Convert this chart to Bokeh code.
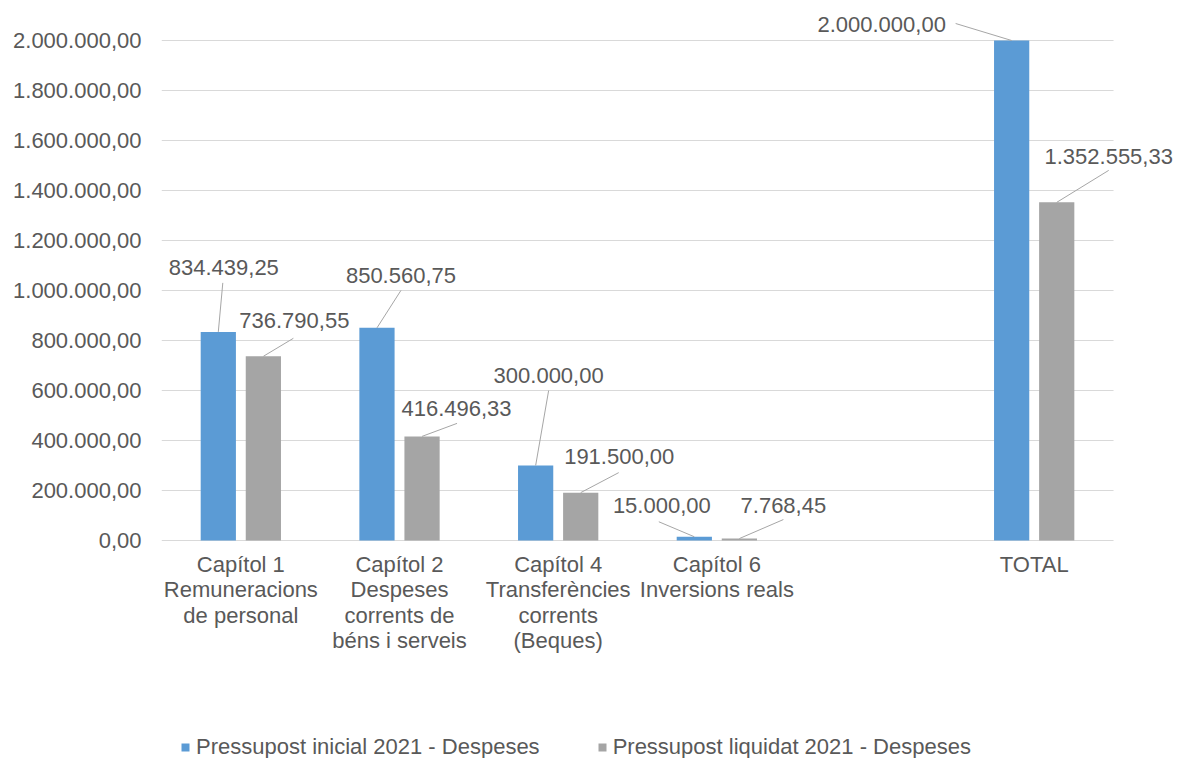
from bokeh.plotting import figure
from bokeh.models import ColumnDataSource, LabelSet, FixedTicker, Range1d, Legend, LegendItem
from bokeh.core.properties import value
from bokeh.embed import file_html
from bokeh.resources import INLINE

# ---------------- data ----------------
categories = [
    "Capítol 1\nRemuneracions\nde personal",
    "Capítol 2\nDespeses\ncorrents de\nbéns i serveis",
    "Capítol 4\nTransferències\ncorrents\n(Beques)",
    "Capítol 6\nInversions reals",
    "",
    "TOTAL",
]
inicial = [834439.25, 850560.75, 300000.00, 15000.00, None, 2000000.00]
liquidat = [736790.55, 416496.33, 191500.00, 7768.45, None, 1352555.33]
series_names = ["Pressupost inicial 2021 - Despeses", "Pressupost liquidat 2021 - Despeses"]

y_ticks = [0, 200000, 400000, 600000, 800000, 1000000, 1200000, 1400000, 1600000, 1800000, 2000000]
y_tick_labels = ["0,00", "200.000,00", "400.000,00", "600.000,00", "800.000,00", "1.000.000,00",
                 "1.200.000,00", "1.400.000,00", "1.600.000,00", "1.800.000,00", "2.000.000,00"]

# label placement (screen pixel offsets from bar top; y positive = up)
inicial_label_off = [(5.5, 64.5), (24, 52.5), (13, 90.5), (-32.5, 31), None, (-130, 16)]
inicial_line_end = [(4.5, 49), (24, 37.5), (13, 75), (-35.5, 15), None, (-56, 17)]
liquidat_label_off = [(31, 36), (34.5, 27.5), (38.5, 36.5), (44, 33), None, (52, 46)]
liquidat_line_end = [(30, 18), (35, 13), (38, 20), (44, 19), None, (52, 32)]

# ---------------- style ----------------
FONT = "Liberation Sans"
TEXT = "#595959"
BLUE = "#5B9BD5"
GRAY = "#A5A5A5"
GRID = "#D9D9D9"
LEADER = "#A6A6A6"

W, H = 1178, 758
BL, BT = 161, 12
ZERO_PX = 540               # page row of the zero line
SLOT_PX = 158.67            # width of one category slot in pixels
PX_PER_UNIT = 500 / 2000000.0
LINE_PX = 25.5              # line spacing of category labels
FRAME_W = W - BL
N = len(categories)
X_END = FRAME_W / SLOT_PX
Y_END = (ZERO_PX - BT) / PX_PER_UNIT
Y_START = -(H - ZERO_PX) / PX_PER_UNIT
XPX = 1.0 / SLOT_PX
YPX = 1.0 / PX_PER_UNIT
DODGE = 0.142
BAR_W = 0.222


def fmt(v):
    s = f"{v:,.2f}"
    return s.replace(",", "X").replace(".", ",").replace("X", ".")


p = figure(width=W, height=H, output_backend="svg", toolbar_location=None,
           x_range=Range1d(0, X_END), y_range=Range1d(Y_START, Y_END),
           min_border_left=BL, min_border_right=0, min_border_top=BT, min_border_bottom=0)
p.outline_line_color = None
p.background_fill_color = "white"
p.border_fill_color = "white"
p.xgrid.grid_line_color = None
p.ygrid.grid_line_color = None
p.xaxis.visible = False

# horizontal gridlines over the category slots only
p.segment(x0=[0] * len(y_ticks), x1=[N] * len(y_ticks), y0=y_ticks, y1=y_ticks,
          line_color=GRID, line_width=1)

yax = p.yaxis[0]
yax.ticker = FixedTicker(ticks=y_ticks)
yax.major_label_overrides = {t: l for t, l in zip(y_ticks, y_tick_labels)}
yax.axis_line_color = None
yax.major_tick_line_color = None
yax.minor_tick_line_color = None
yax.major_tick_out = 0
yax.major_tick_in = 0
yax.major_label_text_font = FONT
yax.major_label_text_font_size = "22px"
yax.major_label_text_color = TEXT
yax.major_label_standoff = 20

# category labels under each slot, each line centred
cx, cy, ct, co = [], [], [], []
for i, c in enumerate(categories):
    for k, line in enumerate(c.split("\n")):
        if not line:
            continue
        cx.append(i + 0.5)
        cy.append(0)
        ct.append(line)
        co.append(-11 - k * LINE_PX)
cat_src = ColumnDataSource(dict(x=cx, y=cy, text=ct, off=co))
p.add_layout(LabelSet(x="x", y="y", text="text", source=cat_src, y_offset="off",
                      text_align="center", text_baseline="top", text_font=value(FONT),
                      text_font_size="22px", text_color=TEXT))


def build(vals, offs, ends, shift):
    d = dict(x=[], top=[], label=[], dx=[], dy=[], lx=[], ly=[])
    for i, v in enumerate(vals):
        if v is None:
            continue
        x = i + 0.5 + shift
        d["x"].append(x)
        d["top"].append(v)
        d["label"].append(fmt(v))
        d["dx"].append(offs[i][0])
        d["dy"].append(offs[i][1])
        d["lx"].append(x + ends[i][0] * XPX)
        d["ly"].append(v + ends[i][1] * YPX)
    return ColumnDataSource(d)


src_a = build(inicial, inicial_label_off, inicial_line_end, -DODGE)
src_b = build(liquidat, liquidat_label_off, liquidat_line_end, DODGE)

items = []
for src, col, name in ((src_a, BLUE, series_names[0]), (src_b, GRAY, series_names[1])):
    r = p.vbar(x="x", top="top", width=BAR_W, bottom=0, source=src, fill_color=col,
               line_color=None)
    items.append(LegendItem(label=name, renderers=[r]))
    p.segment(x0="x", y0="top", x1="lx", y1="ly", source=src, line_color=LEADER, line_width=1)
    p.add_layout(LabelSet(x="x", y="top", text="label", x_offset="dx", y_offset="dy", source=src,
                          text_align="center", text_baseline="middle", text_font=value(FONT),
                          text_font_size="22px", text_color=TEXT))

leg = Legend(items=items, orientation="horizontal", location=(19, -2),
             border_line_color=None, background_fill_alpha=0, padding=0, margin=0,
             spacing=57, glyph_width=10, glyph_height=10, label_standoff=6, label_height=22,
             label_text_font=FONT, label_text_font_size="22px", label_text_color=TEXT)
p.add_layout(leg, "center")

open("out.html", "w").write(file_html(p, INLINE))
